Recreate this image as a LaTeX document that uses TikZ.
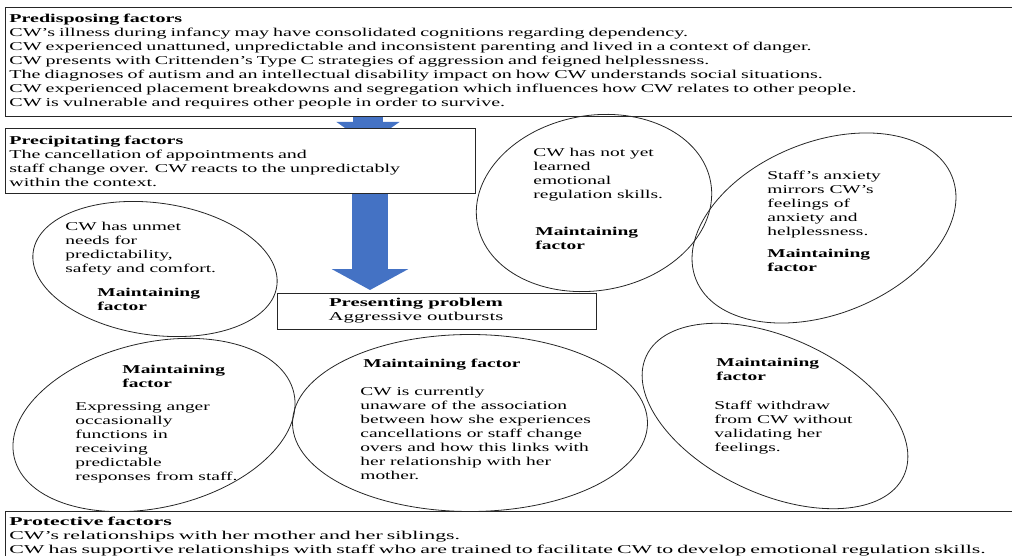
\documentclass[tikz,border=0pt]{standalone}
\usepackage{fontspec}
\setmainfont{Liberation Serif}
\newfontfamily\boxfont{Liberation Serif}[FakeStretch=1.67]
\newfontfamily\ovalfont{Liberation Serif}[FakeStretch=1.62]
\newfontfamily\probfont{Liberation Serif}[FakeStretch=1.73]
\newfontfamily\protfont{Liberation Serif}[FakeStretch=1.82]
\usetikzlibrary{arrows.meta,shapes.geometric}
\definecolor{arrowblue}{HTML}{4472C4}

\begin{document}
\begin{tikzpicture}[x=1pt,y=-1pt,line width=0.8pt]
   \useasboundingbox (0,0) rectangle (1012,556);
   \clip (0,0) rectangle (1012,556);
   \tikzstyle{factorbox}=[draw=black!85, fill=white, rectangle, anchor=north west, inner sep=4pt, align=left, font=\boxfont\fontsize{12}{14}\selectfont]
   \tikzstyle{oval}=[draw=black!85, ellipse, inner sep=0pt]
   \tikzstyle{ovaltext}=[anchor=north west, inner sep=0pt, align=left, font=\ovalfont\fontsize{12}{14}\selectfont]
   \node[factorbox, text width=1040pt, minimum height=109pt] (predisposing) at (5,7) {\textbf{Predisposing factors}\\
      CW’s illness during infancy may have consolidated cognitions regarding dependency.\\
      CW experienced unattuned, unpredictable and inconsistent parenting and lived in a context of danger.\\
      CW presents with Crittenden’s Type C strategies of aggression and feigned helplessness.\\
      The diagnoses of autism and an intellectual disability impact on how CW understands social situations.\\
      CW experienced placement breakdowns and segregation which influences how CW relates to other people.\\
      CW is vulnerable and requires other people in order to survive.};
   % arrow mostly hidden behind the next box
   \coordinate (smalltip) at (368,144);
   \draw[arrowblue, line width=30pt, arrows={-{Triangle[length=22pt,width=62pt]}}] (smalltip |- predisposing.south) -- (smalltip);
   \node[factorbox, text width=462pt, minimum height=65pt] (precipitating) at (5,128) {\textbf{Precipitating factors}\\
      The cancellation of appointments and\\
      staff change over. CW reacts to the unpredictably\\
      within the context.};
   \coordinate (bigtip) at (370,290);
   \draw[arrowblue, line width=36pt, arrows={-{Triangle[length=21pt,width=76pt]}}] (bigtip |- precipitating.south) -- (bigtip);
   \node[factorbox, minimum width=319pt, minimum height=36pt] (presenting) at (277,293) {};
   \node[ovaltext, anchor=center, align=center, font=\probfont\fontsize{12}{14}\selectfont] (presentingtext) at (416,311) {\textbf{Presenting problem}\\Aggressive outbursts};
   % maintaining factors
   \node[oval, minimum width=246pt, minimum height=132pt, rotate=-8] (unmet) at (155,269) {};
   \node[ovaltext] (unmettext) at (65,222) {CW has unmet\\needs for\\predictability,\\safety and comfort.};
   \node[ovaltext] (unmetlabel) at (97,288) {\textbf{Maintaining}\\\textbf{factor}};
   \node[oval, minimum width=237pt, minimum height=175pt, rotate=10] (notyet) at (594,203) {};
   \node[ovaltext] (notyettext) at (533,148) {CW has not yet\\learned\\emotional\\regulation skills.};
   \node[ovaltext] (notyetlabel) at (535,227) {\textbf{Maintaining}\\\textbf{factor}};
   \node[oval, minimum width=276pt, minimum height=172pt, rotate=22] (anxiety) at (824,228) {};
   \node[ovaltext] (anxietytext) at (767,171) {Staff’s anxiety\\mirrors CW’s\\feelings of\\anxiety and\\helplessness.};
   \node[ovaltext] (anxietylabel) at (767,249) {\textbf{Maintaining}\\\textbf{factor}};
   \node[oval, minimum width=287pt, minimum height=165pt, rotate=13] (anger) at (154,425) {};
   \node[ovaltext] (angerlabel) at (122,365) {\textbf{Maintaining}\\\textbf{factor}};
   \node[ovaltext] (angertext) at (75,402) {Expressing anger\\occasionally\\functions in\\receiving\\predictable\\responses from staff.};
   \node[oval, minimum width=355pt, minimum height=177pt] (unaware) at (470,423) {};
   \node[ovaltext] (unawarelabel) at (363,359) {\textbf{Maintaining factor}};
   \node[ovaltext] (unawaretext) at (360,387) {CW is currently\\unaware of the association\\between how she experiences\\cancellations or staff change\\overs and how this links with\\her relationship with her\\mother.};
   \node[oval, minimum width=284pt, minimum height=156pt, rotate=-25] (withdraw) at (775,416) {};
   \node[ovaltext] (withdrawlabel) at (716,358) {\textbf{Maintaining}\\\textbf{factor}};
   \node[ovaltext] (withdrawtext) at (714,401) {Staff withdraw\\from CW without\\validating her\\feelings.};
   \node[factorbox, text width=1040pt, minimum height=50pt, font=\protfont\fontsize{12}{14}\selectfont] (protective) at (5,511) {\textbf{Protective factors}\\
      CW’s relationships with her mother and her siblings.\\
      CW has supportive relationships with staff who are trained to facilitate CW to develop emotional regulation skills.};
\end{tikzpicture}
\end{document}
